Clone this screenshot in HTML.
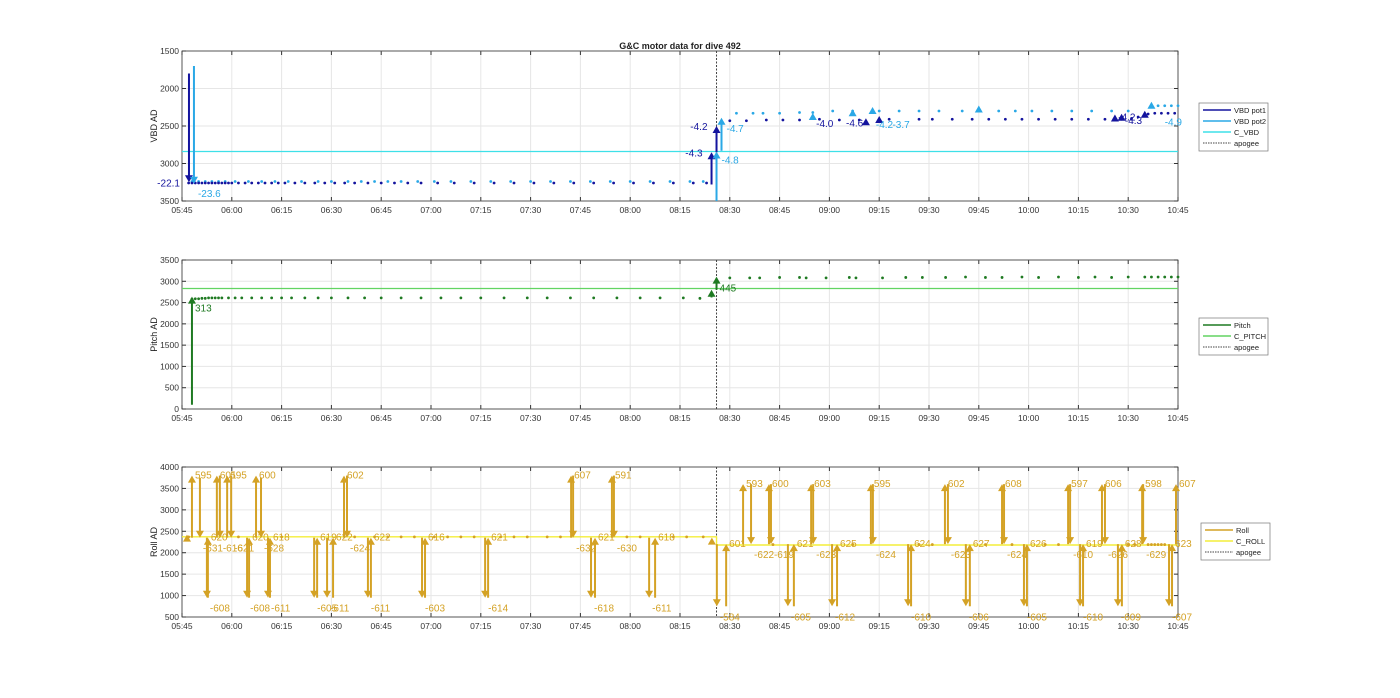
<!DOCTYPE html>
<html><head><meta charset="utf-8"><style>
body{margin:0;background:#fff;}
svg text{font-family:"Liberation Sans",sans-serif;}
</style></head><body>
<svg id="chart" width="1400" height="693" viewBox="0 0 1400 693" xmlns="http://www.w3.org/2000/svg">
<text x="680" y="49" font-size="9" font-weight="bold" text-anchor="middle" fill="#222">G&amp;C motor data for dive 492</text>
</svg>
<script>
// ---- data (minutes since 05:45) ----
const xTickLabels=["05:45","06:00","06:15","06:30","06:45","07:00","07:15","07:30","07:45","08:00","08:15","08:30","08:45","09:00","09:15","09:30","09:45","10:00","10:15","10:30","10:45"];
const apogeeT=161;
const vbdTicks=[1500,2000,2500,3000,3500];
const pitchTicks=[0,500,1000,1500,2000,2500,3000,3500];
const rollTicks=[500,1000,1500,2000,2500,3000,3500,4000];
const cVbd=2840, cPitch=2830;
const cRollT=[0,161,161,300];
const cRollV=[2370,2370,2180,2180];
// VBD dots
const pot1PreT=[2,3,4,5,6,7,8,9,10,11,12,13,14,15,17,19,21,23,25,27,29,31,34,37,40,43,46,49,52,56,60,64,68,72,77,82,88,94,100,106,112,118,124,130,136,142,148,154,158];
const pot1PreV=[3260,3260,3260,3260,3260,3260,3260,3260,3260,3260,3260,3260,3260,3260,3260,3260,3260,3260,3260,3260,3260,3260,3260,3260,3260,3260,3260,3260,3260,3260,3260,3260,3260,3260,3260,3260,3260,3260,3260,3260,3260,3260,3260,3260,3260,3260,3260,3260,3260];
const pot2PreT=[3,5,7,9,11,13,16,20,24,28,32,36,41,45,50,54,58,62,66,71,76,81,87,93,99,105,111,117,123,129,135,141,147,153,157];
const pot2PreV=[3240,3240,3240,3240,3240,3240,3240,3240,3240,3240,3240,3240,3240,3240,3240,3240,3240,3240,3240,3240,3240,3240,3240,3240,3240,3240,3240,3240,3240,3240,3240,3240,3240,3240,3240];
const pot1PostT=[165,170,176,181,186,192,198,204,213,222,226,232,238,243,248,253,258,263,268,273,278,283,286,288,291,293,295,297,299];
const pot1PostV=[2430,2430,2420,2420,2420,2410,2420,2420,2410,2410,2410,2410,2410,2410,2410,2410,2410,2410,2410,2410,2410,2410,2400,2380,2340,2330,2330,2330,2330];
const pot2PostT=[167,172,175,180,186,190,196,202,210,216,222,228,235,240,246,251,256,262,268,274,280,285,292,294,296,298,300];
const pot2PostV=[2330,2330,2330,2330,2320,2320,2300,2300,2300,2300,2300,2300,2300,2300,2300,2300,2300,2300,2300,2300,2300,2300,2230,2230,2230,2230,2230];
// VBD arrows: time, from, to, label, series(1/2)
const vbdArrT=[2.1,3.6,159.5,161,161,162.5];
const vbdArrFrom=[1800,1700,3280,2850,3500,2830];
const vbdArrTo=[3250,3270,2850,2500,2840,2390];
const vbdArrLab=["-22.1","-23.6","-4.3","-4.2","-4.8","-4.7"];
const vbdArrSer=[1,2,1,1,2,2];
const vbdMarkT=[190,202,206,208,210,240,281,283,290,292];
const vbdMarkV=[2380,2330,2450,2300,2420,2280,2400,2390,2350,2230];
const vbdMarkSer=[2,2,1,2,1,2,1,1,1,2];
const vbdTxtT=[191,200,209,214,284,282,296];
const vbdTxtV=[2460,2450,2470,2470,2420,2370,2440];
const vbdTxtLab=["-4.0","-4.6","-4.2","-3.7","-4.3","-4.2","-4.9"];
const vbdTxtSer=[1,1,2,2,1,1,2];
// Pitch
const pitchPreT=[3,4,5,6,7,8,9,10,11,12,14,16,18,21,24,27,30,33,37,41,45,50,55,60,66,72,78,84,90,97,104,110,117,124,131,138,144,151,156];
const pitchPreV=[2580,2590,2590,2600,2600,2610,2610,2610,2610,2610,2610,2610,2610,2610,2610,2610,2610,2610,2610,2610,2610,2610,2610,2610,2610,2610,2610,2610,2610,2610,2610,2610,2610,2610,2610,2610,2610,2610,2600];
const pitchPostT=[165,171,174,180,186,188,194,201,203,211,218,223,230,236,242,247,253,258,264,270,275,280,285,290,292,294,296,298,300];
const pitchPostV=[3080,3080,3080,3090,3090,3080,3080,3090,3080,3080,3090,3090,3090,3100,3090,3090,3100,3090,3100,3090,3100,3090,3100,3100,3100,3100,3100,3100,3100];
const pitchArrT=[3,159.5,161];
const pitchArrFrom=[100,2620,2800];
const pitchArrTo=[2640,2800,3110];
const pitchArrLab=["313","","445"];
// Roll arrows: time, from, to, label
const rollArrT=[3,5.4,7.5,7.8,10.5,11.4,13.6,14.8,19.6,20.2,22.3,23.8,25.9,26.5,39.8,40.7,43.7,45.5,48.8,49.7,56,56.9,72.3,73.2,91.3,92.2,117.2,117.8,123.2,124.4,129.5,130.1,140.7,142.5,161.1,163.9,169,171.4,176.8,177.4,182.5,184.3,189.5,190.1,195.8,197.3,207.5,208.1,218.7,219.6,229.8,230.7,236.1,237.3,247,247.6,253.6,254.5,266.9,267.5,270.5,271.4,277.1,278,281.9,283.1,289.2,289.5,297.3,298.2,299.4];
const rollArrFrom=[2350,3750,2350,950,2350,3800,2350,3800,2350,950,2350,3750,2350,950,2350,950,2350,950,2350,3800,2350,950,2350,950,2350,950,2350,3800,2350,950,2350,3800,2350,950,2200,750,2200,3600,2200,3600,2200,750,2200,3600,2200,750,2200,3600,2200,750,2200,3600,2200,750,2200,3600,2200,750,2200,3600,2200,750,2200,3600,2200,750,2200,3600,2200,750,2200];
const rollArrTo=[3800,2350,950,2350,3800,2350,3800,2350,950,2350,3800,2350,950,2350,950,2350,950,2350,3800,2350,950,2350,950,2350,950,2350,3800,2350,950,2350,3800,2350,950,2350,750,2200,3600,2200,3600,2200,750,2200,3600,2200,750,2200,3600,2200,750,2200,3600,2200,750,2200,3600,2200,750,2200,3600,2200,750,2200,3600,2200,750,2200,3600,2200,750,2200,3600];
const rollArrLab=["595","-631","-608","620","601","-616","595","-621","-608","620","600","-628","-611","618","-605","619","-611","622","602","-624","-611","622","-603","616","-614","621","607","-632","-618","621","591","-630","-611","618","-584","601","593","-622","600","-619","-605","621","603","-623","-612","625","595","-624","-610","624","602","-623","-606","627","608","-624","-605","626","597","-610","-610","619","606","-626","-609","628","598","-629","-607","623","607"];
const rollDotT=[2,17,30,52,58,62,66,70,76,80,84,88,96,100,104,110,114,134,138,148,152,157,178,202,222,226,242,250,260,264,285,287,291,292,293,294,295,296];
const rollDotV=[2370,2370,2370,2370,2370,2370,2370,2370,2370,2370,2370,2370,2370,2370,2370,2370,2370,2370,2370,2370,2370,2370,2190,2190,2190,2190,2190,2190,2190,2190,2190,2190,2190,2190,2190,2190,2190,2190];

// ---- layout ----
const NS="http://www.w3.org/2000/svg";
const svg=document.getElementById('chart');
const L=182,R=1178;
function X(t){return L+(R-L)*t/300;}
function mk(tag,attrs,parent){const e=document.createElementNS(NS,tag);for(const k in attrs)e.setAttribute(k,attrs[k]);(parent||svg).appendChild(e);return e;}
const C1="#14149e",C2="#2aa8e6",CV="#3ee0e8",CP="#1f7a22",CCP="#62d462",CR="#d4a225",CCR="#f4ee3a";
function panel(name,top,bot,vmin,vmax,reverse,ticks,ylabel){
  const g=mk('g',{});
  
  
  const Y=v=>reverse? top+(bot-top)*(v-vmin)/(vmax-vmin) : bot-(bot-top)*(v-vmin)/(vmax-vmin);
  mk('rect',{x:L,y:top,width:R-L,height:bot-top,fill:'#fff'},g);
  xTickLabels.forEach((lab,i)=>{
    const x=X(i*15);
    mk('line',{x1:x,y1:top,x2:x,y2:bot,stroke:'#e6e6e6','stroke-width':1},g);
    mk('line',{x1:x,y1:bot,x2:x,y2:bot-4,stroke:'#333','stroke-width':1},g);
    mk('line',{x1:x,y1:top,x2:x,y2:top+4,stroke:'#333','stroke-width':1},g);
    const t=mk('text',{x:x,y:bot+12,'font-size':8.5,'text-anchor':'middle',fill:'#333'},g);t.textContent=lab;
    
    
  });
  ticks.forEach(v=>{
    const y=Y(v);
    mk('line',{x1:L,y1:y,x2:R,y2:y,stroke:'#e6e6e6','stroke-width':1},g);
    mk('line',{x1:L,y1:y,x2:L+4,y2:y,stroke:'#333'},g);
    mk('line',{x1:R,y1:y,x2:R-4,y2:y,stroke:'#333'},g);
    const t=mk('text',{x:L-3,y:y+3,'font-size':8.5,'text-anchor':'end',fill:'#333'},g);t.textContent=v;
    
    
  });
  mk('rect',{x:L,y:top,width:R-L,height:bot-top,fill:'none',stroke:'#333','stroke-width':0.8},g);
  const yl=mk('text',{x:0,y:0,'font-size':9,'text-anchor':'middle',fill:'#222',transform:`translate(157,${(top+bot)/2}) rotate(-90)`},g);yl.textContent=ylabel;
  
  
  const ax=X(apogeeT);
  const ap=mk('line',{x1:ax,y1:top,x2:ax,y2:bot,stroke:'#444','stroke-width':1,'stroke-dasharray':'2,1.5'},g);
  
  
  return {g,Y};
}
function dots(p,ts,vs,col,name){ts.forEach((t,i)=>{const c=mk('circle',{cx:X(t),cy:p.Y(vs[i]),r:1.4,fill:col},p.g);});}
function arrow(p,t,from,to,col,lab,name,fs,upOff){
  const x=X(t),y1=p.Y(from),y2=p.Y(to);const up=y2<y1;
  const ln=mk('line',{x1:x,y1:y1,x2:x,y2:y2+(up?5:-5),stroke:col,'stroke-width':2},p.g);
  
  
  const d=up?`M${x-4},${y2+7}L${x+4},${y2+7}L${x},${y2}Z`:`M${x-4},${y2-7}L${x+4},${y2-7}L${x},${y2}Z`;
  const h=mk('path',{d:d,fill:col},p.g);
  
  
  if(lab!==""){const tx=mk('text',{x:x+3,y:up?y2+(upOff===undefined?3:upOff):y2+14,'font-size':fs||10,fill:col},p.g);tx.textContent=lab;
    
    }
}
function tri(p,t,v,col,name){const x=X(t),y=p.Y(v);const e=mk('path',{d:`M${x-4},${y+3}L${x+4},${y+3}L${x},${y-4}Z`,fill:col},p.g);}
function legend(x,y,items,name){
  const g=mk('g',{});
  
  
  mk('rect',{x:x,y:y,width:69,height:items.length*11+4,fill:'#fff',stroke:'#777','stroke-width':0.7},g);
  items.forEach((it,i)=>{const yy=y+7+i*11;
    mk('line',{x1:x+4,y1:yy,x2:x+32,y2:yy,stroke:it[1],'stroke-width':it[2]?1:1.6,'stroke-dasharray':it[2]?'1.5,1':'none'},g);
    const t=mk('text',{x:x+35,y:yy+3,'font-size':7.5,fill:'#222'},g);t.textContent=it[0];
    
    });
}
// VBD
const pv=panel('vbd',51,201,1500,3500,true,vbdTicks,'VBD AD');
mk('line',{x1:L,y1:pv.Y(cVbd),x2:R,y2:pv.Y(cVbd),stroke:CV,'stroke-width':1.2},pv.g);
dots(pv,pot2PreT,pot2PreV,C2,'vbd-pot2-point');dots(pv,pot1PreT,pot1PreV,C1,'vbd-pot1-point');
dots(pv,pot2PostT,pot2PostV,C2,'vbd-pot2-point');dots(pv,pot1PostT,pot1PostV,C1,'vbd-pot1-point');
vbdArrT.forEach((t,i)=>{const col=vbdArrSer[i]==1?C1:C2;const lab=vbdArrLab[i];
  arrow(pv,t,vbdArrFrom[i],vbdArrTo[i],col,"",'vbd-arrow');const x=X(t),y=pv.Y(vbdArrTo[i]);
  let tx;
  if(i<=3){tx=mk('text',{x:i==1?x+4:x-9,y:i==1?y+13:y+4,'font-size':10,fill:col,'text-anchor':i==1?'start':'end'},pv.g);}
  else{tx=mk('text',{x:x+5,y:i==4?y+12:y+14,'font-size':10,fill:col},pv.g);}
  tx.textContent=lab;
});
vbdMarkT.forEach((t,i)=>tri(pv,t,vbdMarkV[i],vbdMarkSer[i]==1?C1:C2,'vbd-marker'));
vbdTxtT.forEach((t,i)=>{const tx=mk('text',{x:X(t),y:pv.Y(vbdTxtV[i])+4,'font-size':10,fill:vbdTxtSer[i]==1?C1:C2},pv.g);tx.textContent=vbdTxtLab[i];});
legend(1199,103,[['VBD pot1',C1],['VBD pot2',C2],['C_VBD',CV],['apogee','#444',1]],'vbd-legend');
// Pitch
const pp=panel('pitch',260,409,0,3500,false,pitchTicks,'Pitch AD');
mk('line',{x1:L,y1:pp.Y(cPitch),x2:R,y2:pp.Y(cPitch),stroke:CCP,'stroke-width':1.2},pp.g);
dots(pp,pitchPreT,pitchPreV,CP,'pitch-point');dots(pp,pitchPostT,pitchPostV,CP,'pitch-point');
pitchArrT.forEach((t,i)=>arrow(pp,t,pitchArrFrom[i],pitchArrTo[i],CP,pitchArrLab[i],'pitch-arrow',10,15));
legend(1199,318,[['Pitch',CP],['C_PITCH',CCP],['apogee','#444',1]],'pitch-legend');
// Roll
const pr=panel('roll',467,617,500,4000,false,rollTicks,'Roll AD');
let dPath='';cRollT.forEach((t,i)=>{dPath+=(i?'L':'M')+X(t)+','+pr.Y(cRollV[i]);});
mk('path',{d:dPath,fill:'none',stroke:CCR,'stroke-width':1.4},pr.g);
dots(pr,rollDotT,rollDotV,CR,'roll-point');
tri(pr,1.5,2330,CR,'roll-marker');tri(pr,159.6,2260,CR,'roll-marker');
rollArrT.forEach((t,i)=>arrow(pr,t,rollArrFrom[i],rollArrTo[i],CR,rollArrLab[i],'roll-arrow',10));
legend(1201,523,[['Roll',CR],['C_ROLL',CCR],['apogee','#444',1]],'roll-legend');
</script>
</body></html>
